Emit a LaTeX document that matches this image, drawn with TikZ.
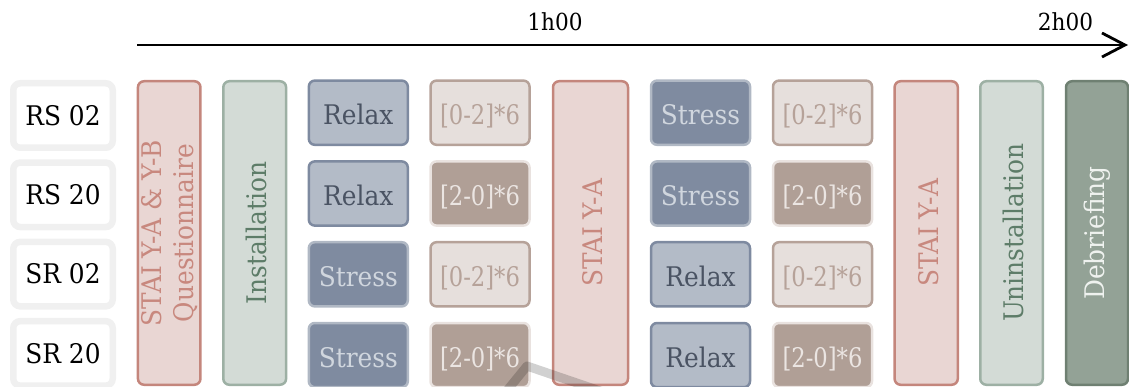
\documentclass[tikz,border=0pt]{standalone}
\usepackage{fontspec}
\setmainfont[FakeStretch=0.92]{DejaVu Serif}
\newfontfamily\repfont[FakeStretch=0.84]{DejaVu Serif}
\usetikzlibrary{positioning}
\usetikzlibrary{arrows.meta}

\definecolor{labeldraw}{HTML}{F0F0F0}
\definecolor{staifill}{HTML}{E9D6D3}
\definecolor{staidraw}{HTML}{C4867C}
\definecolor{staitext}{HTML}{C8887E}
\definecolor{instfill}{HTML}{D3DBD6}
\definecolor{instdraw}{HTML}{9DB0A4}
\definecolor{insttext}{HTML}{5D7C68}
\definecolor{relaxfill}{HTML}{B3BBC7}
\definecolor{relaxdraw}{HTML}{7E8AA0}
\definecolor{relaxtext}{HTML}{4A5363}
\definecolor{stressfill}{HTML}{7F8BA0}
\definecolor{stressdraw}{HTML}{B0B8C4}
\definecolor{stresstext}{HTML}{D0D6DE}
\definecolor{upfill}{HTML}{E6DFDC}
\definecolor{updraw}{HTML}{B6A299}
\definecolor{downfill}{HTML}{B09F96}
\definecolor{downdraw}{HTML}{E9E2DF}
\definecolor{downtext}{HTML}{EBE5E2}
\definecolor{debrieffill}{HTML}{93A296}
\definecolor{debriefdraw}{HTML}{6F8072}
\definecolor{debrieftext}{HTML}{EFF2EF}

\begin{document}
\begin{tikzpicture}[
        x=1pt,
        y=-1pt,
        every node/.style={
            font=\fontsize{27}{32}\selectfont,
            inner sep=0pt,
            outer sep=0pt,
        },
        timeline/.style={
            -{Straight Barb[length=23pt, width=24pt, line width=2.8pt]},
            line width=2.8pt,
        },
        hour/.style={
            font=\fontsize{23.5}{28}\selectfont,
        },
        lowered/.style={
            text height=24.5pt,
            text depth=0pt,
        },
        session/.style={
            draw=labeldraw,
            line width=6.5pt,
            rounded corners=7pt,
            fill=white,
            minimum width=99.5pt,
            minimum height=64.5pt,
        },
        block/.style={
            lowered,
            line width=2.5pt,
            rounded corners=6pt,
            minimum width=99pt,
            minimum height=64.2pt,
        },
        tall/.style={
            line width=2.5pt,
            rounded corners=6pt,
            rotate=90,
            align=center,
            minimum width=303.5pt,
            minimum height=62.5pt,
        },
        relax/.style={block, draw=relaxdraw, fill=relaxfill, text=relaxtext},
        stress/.style={block, draw=stressdraw, fill=stressfill, text=stresstext},
        up/.style={block, font=\repfont\fontsize{27}{32}\selectfont, draw=updraw, fill=upfill, text=updraw},
        down/.style={block, font=\repfont\fontsize{27}{32}\selectfont, draw=downdraw, fill=downfill, text=downtext},
        stai/.style={tall, draw=staidraw, fill=staifill, text=staitext},
        inst/.style={tall, lowered, draw=instdraw, fill=instfill, text=insttext},
        debrief/.style={tall, draw=debriefdraw, fill=debrieffill, text=debrieftext},
        smudge/.style={
            line width=9pt,
            line join=round,
            draw=black,
            draw opacity=0.18,
        },
    ]
    \useasboundingbox (0, 0) rectangle (1129, 387);
    \clip (0, 0) rectangle (1129, 387);

    % Time axis.
    \coordinate (t0) at (137, 45);
    \coordinate (t1) at (1128, 45);

    \draw[timeline] (t0) to (t1);

    \node[hour] (h1) at (555, 21.5) {1h00};
    \node[hour] (h2) at (1065.5, 21.5) {2h00};

    % Sessions.
    \node[session] (rs02) at (63, 115.5) {RS 02};
    \node[session, below=14.8pt of rs02] (rs20) {RS 20};
    \node[session, below=14.8pt of rs20] (sr02) {SR 02};
    \node[session, below=14.8pt of sr02] (sr20) {SR 20};

    % Long steps.
    \node[stai] (stai1) at (169.2, 233) {STAI Y-A \& Y-B\\Questionnaire};
    \node[inst, minimum height=62.8pt] (inst1) at (254.7, 233) {Installation};
    \node[stai, lowered, minimum height=75pt] (stai2) at (590.5, 233) {STAI Y-A};
    \node[stai, lowered, minimum height=63.2pt] (stai3) at (926.2, 233) {STAI Y-A};
    \node[inst] (inst2) at (1011.5, 233) {Uninstallation};
    \node[debrief, minimum height=62pt] (debrief) at (1097, 233) {Debriefing};

    % First condition.
    \node[relax] (a1) at (358.3, 112.7) {Relax};
    \node[relax, below=16.6pt of a1] (a2) {Relax};
    \node[stress, below=16.6pt of a2] (a3) {Stress};
    \node[stress, below=16.6pt of a3] (a4) {Stress};

    \node[up] (b1) at (480, 112.7) {[0-2]*6};
    \node[down, below=16.6pt of b1] (b2) {[2-0]*6};
    \node[up, below=16.6pt of b2] (b3) {[0-2]*6};
    \node[down, below=16.6pt of b3] (b4) {[2-0]*6};

    % Second condition.
    \node[stress] (c1) at (700.5, 112.7) {Stress};
    \node[stress, below=16.6pt of c1] (c2) {Stress};
    \node[relax, below=16.6pt of c2] (c3) {Relax};
    \node[relax, below=16.6pt of c3] (c4) {Relax};

    \node[up] (d1) at (822.5, 112.7) {[0-2]*6};
    \node[down, below=16.6pt of d1] (d2) {[2-0]*6};
    \node[up, below=16.6pt of d2] (d3) {[0-2]*6};
    \node[down, below=16.6pt of d3] (d4) {[2-0]*6};

    % Grey mark at the bottom.
    \coordinate (m0) at (505, 393);
    \coordinate (m1) at (527, 366);
    \coordinate (m2) at (606, 393);

    \draw[smudge] (m0) to (m1) to (m2);

\end{tikzpicture}
\end{document}
